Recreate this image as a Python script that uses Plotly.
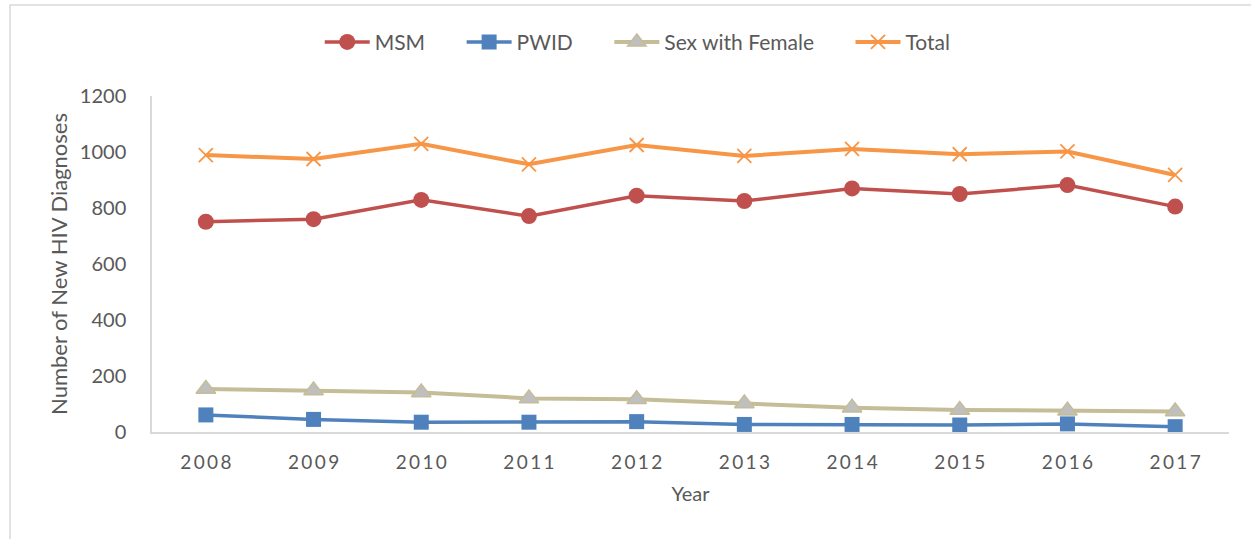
import plotly.graph_objects as go

years = [2008, 2009, 2010, 2011, 2012, 2013, 2014, 2015, 2016, 2017]
msm = [751, 760, 829, 771, 844, 825, 870, 850, 882, 805]
pwid = [61, 45, 35, 35, 37, 27, 27, 25, 29, 19]
sex_female = [154, 148, 141, 120, 117, 102, 87, 79, 76, 73]
total = [989, 975, 1029, 956, 1025, 986, 1011, 992, 1002, 918]

year_labels = ["\u2009".join(str(y)) for y in years]
font_color = "#595959"
font_family = "Lato"
pad = "\u2003\u2003"  # extra gap between legend items

fig = go.Figure()
fig.add_trace(go.Scatter(
    x=years, y=msm, name="MSM" + pad, mode="lines+markers",
    line=dict(color="#C0504D", width=3.5),
    marker=dict(symbol="circle", size=16, color="#C0504D")))
fig.add_trace(go.Scatter(
    x=years, y=pwid, name="PWID" + pad, mode="lines+markers",
    line=dict(color="#4F81BD", width=3.5),
    marker=dict(symbol="square", size=15, color="#4F81BD")))
fig.add_trace(go.Scatter(
    x=years, y=sex_female, name="Sex with Female" + pad, mode="lines+markers",
    line=dict(color="#C4BD97", width=4),
    marker=dict(symbol="triangle-up", size=17, color="#BFBFBF",
                line=dict(color="#C4BD97", width=1.5))))
fig.add_trace(go.Scatter(
    x=years, y=total, name="Total", mode="lines+markers",
    line=dict(color="#F79646", width=4),
    marker=dict(symbol="x-thin-open", size=14, color="#F79646",
                line=dict(color="#F79646", width=1.8))))

fig.update_layout(
    width=1251, height=539,
    margin=dict(l=152, r=22, t=96, b=107),
    paper_bgcolor="white", plot_bgcolor="white",
    font=dict(family=font_family, size=20, color=font_color),
    legend=dict(orientation="h", x=0.451, xanchor="center", y=1.16, yanchor="middle",
                font=dict(size=21, color=font_color), itemwidth=45),
    xaxis=dict(
        range=[2007.5, 2017.5], tickvals=years, ticktext=year_labels,
        showgrid=False, zeroline=False, showline=True, linecolor="#D9D9D9", linewidth=1.5,
        ticks="", ticklabelstandoff=12, tickfont=dict(size=19, color=font_color),
        title=dict(text="Year", font=dict(size=20, color=font_color), standoff=15)),
    yaxis=dict(
        range=[0, 1200], dtick=200,
        showgrid=False, zeroline=False, showline=True, linecolor="#D9D9D9", linewidth=1.5,
        ticks="", ticklabelstandoff=20, tickfont=dict(size=20, color=font_color),
        title=dict(text="Number of New HIV Diagnoses", font=dict(size=22, color=font_color), standoff=6)),
)

# outer chart frame (cropped at right and bottom in the original)
fig.add_shape(type="path", xref="paper", yref="paper",
              path="M -0.1318,-0.4 L -0.1318,1.2708 L 1.1,1.2708",
              line=dict(color="#D9D9D9", width=1.5))

fig.write_html("out.html", config={"displayModeBar": False},
               post_script="document.body.style.margin='0px';")
